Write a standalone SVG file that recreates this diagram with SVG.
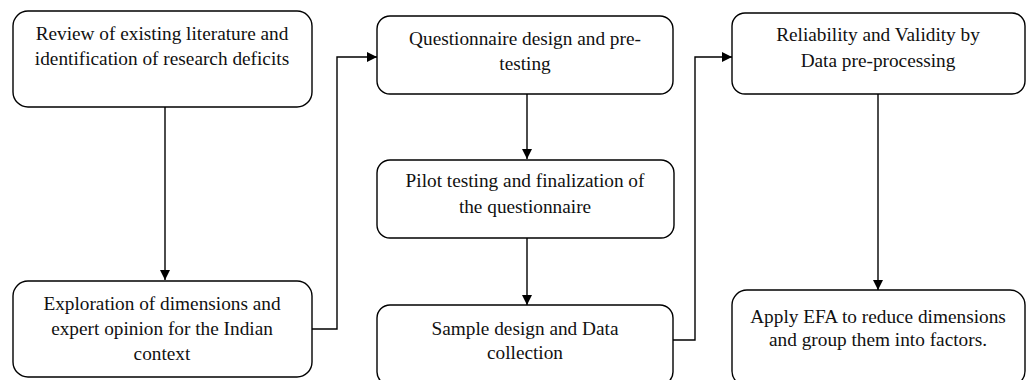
<svg xmlns="http://www.w3.org/2000/svg" width="1028" height="380" viewBox="0 0 1028 380">
<style>
.box{fill:#fff;stroke:#000;stroke-width:1.4}
.t{font-family:"Liberation Serif","Times New Roman",serif;font-size:19.3px;fill:#111;text-anchor:middle}
.c{fill:none;stroke:#000;stroke-width:1.4}
</style>
<defs>
<marker id="ah" markerWidth="10" markerHeight="10" refX="10" refY="5" orient="auto" markerUnits="userSpaceOnUse">
<path d="M0,0 L10,5 L0,10 Z" fill="#000"/>
</marker>
</defs>
<rect width="1028" height="380" fill="#fff"/>
<g id="connectors">
<path class="c" d="M165,107 V280" marker-end="url(#ah)"/>
<path class="c" d="M312,329 H337 V57 H377" marker-end="url(#ah)"/>
<path class="c" d="M527,94 V159" marker-end="url(#ah)"/>
<path class="c" d="M527,238 V305" marker-end="url(#ah)"/>
<path class="c" d="M673,340 H695 V57 H732" marker-end="url(#ah)"/>
<path class="c" d="M878,94 V290" marker-end="url(#ah)"/>
</g>
<g id="n1">
<rect class="box" x="13" y="11" width="299" height="96" rx="15"/>
<text class="t" x="162" y="40">Review of existing literature and</text>
<text class="t" x="162" y="65">identification of research deficits</text>
</g>
<g id="n2">
<rect class="box" x="13" y="281" width="299" height="96" rx="15"/>
<text class="t" x="162" y="310">Exploration of dimensions and</text>
<text class="t" x="162" y="335">expert opinion for the Indian</text>
<text class="t" x="162" y="360">context</text>
</g>
<g id="n3">
<rect class="box" x="377" y="16" width="296" height="78" rx="13"/>
<text class="t" x="525" y="45">Questionnaire design and pre-</text>
<text class="t" x="525" y="70">testing</text>
</g>
<g id="n4">
<rect class="box" x="377" y="160" width="297" height="78" rx="13"/>
<text class="t" x="525" y="187">Pilot testing and finalization of</text>
<text class="t" x="525" y="213">the questionnaire</text>
</g>
<g id="n5">
<rect class="box" x="377" y="305" width="296" height="80" rx="13"/>
<text class="t" x="525" y="335">Sample design and Data</text>
<text class="t" x="525" y="359">collection</text>
</g>
<g id="n6">
<rect class="box" x="732" y="13" width="293" height="81" rx="13"/>
<text class="t" x="878" y="41">Reliability and Validity by</text>
<text class="t" x="878" y="67">Data pre-processing</text>
</g>
<g id="n7">
<rect class="box" x="732" y="290" width="293" height="96" rx="15"/>
<text class="t" x="878" y="323">Apply EFA to reduce dimensions</text>
<text class="t" x="878" y="346">and group them into factors.</text>
</g>
</svg>
